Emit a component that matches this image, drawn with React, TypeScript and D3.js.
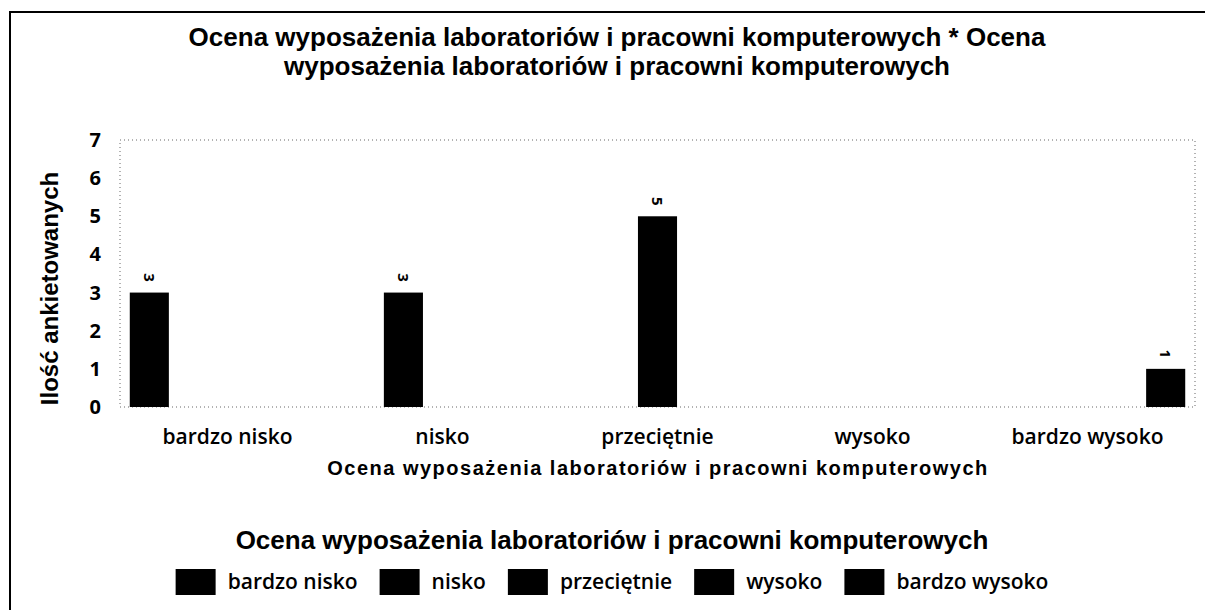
import { useEffect, useRef } from 'react';
import * as d3 from 'd3';

// kategorie oceny (oś X) i serie w legendzie
const categories = ['bardzo nisko', 'nisko', 'przeciętnie', 'wysoko', 'bardzo wysoko'];
const seriesNames = ['bardzo nisko', 'nisko', 'przeciętnie', 'wysoko', 'bardzo wysoko'];
// liczba ankietowanych - każda kategoria ma wartość tylko we własnej serii
const counts = [3, 3, 5, 0, 1];
const yTicks = [0, 1, 2, 3, 4, 5, 6, 7];

const titleLines = [
  'Ocena wyposażenia laboratoriów i pracowni komputerowych * Ocena',
  'wyposażenia laboratoriów i pracowni komputerowych',
];
const xTitle = 'Ocena wyposażenia laboratoriów i pracowni komputerowych';
const yTitle = 'Ilość ankietowanych';
const legendTitle = 'Ocena wyposażenia laboratoriów i pracowni komputerowych';

const W = 1205;
const H = 610;

export default function App() {
  const svgRef = useRef<SVGSVGElement>(null);

  useEffect(() => {
    if (!svgRef.current) return;
    const svg = d3.select(svgRef.current);
    svg.selectAll('*').remove();

    const boldFont = '"Liberation Sans", Arial, sans-serif';
    const plainFont = '"Open Sans", sans-serif';

    // ramka
    svg.append('rect')
      .attr('x', 10).attr('y', 12)
      .attr('width', W + 20).attr('height', H + 20)
      .attr('fill', 'white')
      .attr('stroke', '#000')
      .attr('stroke-width', 2);

    // tytuł
    const title = svg.append('text')
      .attr('text-anchor', 'middle')
      .attr('font-family', boldFont)
      .attr('font-weight', 'bold')
      .attr('font-size', 26)
      .attr('fill', '#000');
    titleLines.forEach((line, i) => {
      title.append('tspan').attr('x', 617).attr('y', 46 + i * 29).text(line);
    });

    const left = 120;
    const right = 1195;
    const top = 140;
    const bottom = 407;

    const x0 = d3.scaleBand<string>().domain(categories).range([left, right]).padding(0);
    const x1 = d3.scaleBand<string>().domain(seriesNames)
      .range([0, x0.bandwidth()])
      .paddingInner(0)
      .paddingOuter(0.25);
    const y = d3.scaleLinear().domain([0, 7]).range([bottom, top]);

    // obszar wykresu - kropkowane krawędzie
    svg.append('rect')
      .attr('x', left).attr('y', top)
      .attr('width', right - left).attr('height', bottom - top)
      .attr('fill', 'none')
      .attr('stroke', '#666')
      .attr('stroke-width', 1)
      .attr('stroke-dasharray', '1,3');

    // oś Y
    svg.append('g')
      .selectAll('text')
      .data(yTicks)
      .enter()
      .append('text')
      .attr('x', 101)
      .attr('y', d => y(d))
      .attr('dy', '0.35em')
      .attr('text-anchor', 'end')
      .attr('font-family', plainFont)
      .attr('font-weight', 700)
      .attr('font-size', 20)
      .text(d => d);

    svg.append('text')
      .attr('transform', `translate(50, ${(top + bottom) / 2 + 15}) rotate(-90)`)
      .attr('text-anchor', 'middle')
      .attr('dy', '0.35em')
      .attr('font-family', boldFont)
      .attr('font-weight', 'bold')
      .attr('font-size', 24)
      .text(yTitle);

    // słupki
    const groups = svg.append('g')
      .selectAll('g')
      .data(categories)
      .enter()
      .append('g')
      .attr('transform', d => `translate(${x0(d)}, 0)`);

    const bars = groups.selectAll('g')
      .data((c, ci) => seriesNames.map((s, si) => ({ s, v: si === ci ? counts[ci] : 0 })).filter(d => d.v > 0))
      .enter()
      .append('g');

    bars.append('rect')
      .attr('x', d => x1(d.s)!)
      .attr('y', d => y(d.v))
      .attr('width', x1.bandwidth())
      .attr('height', d => y(0) - y(d.v))
      .attr('fill', '#000');

    bars.append('text')
      .attr('transform', d => `translate(${x1(d.s)! + x1.bandwidth() / 2}, ${y(d.v) - 15}) rotate(90)`)
      .attr('text-anchor', 'middle')
      .attr('dy', '0.35em')
      .attr('font-family', plainFont)
      .attr('font-weight', 700)
      .attr('font-size', 15)
      .text(d => d.v);

    // etykiety kategorii
    svg.append('g')
      .selectAll('text')
      .data(categories)
      .enter()
      .append('text')
      .attr('x', d => x0(d)! + x0.bandwidth() / 2)
      .attr('y', 437)
      .attr('dy', '0.35em')
      .attr('text-anchor', 'middle')
      .attr('font-family', plainFont)
      .attr('font-weight', 600)
      .attr('font-size', 21)
      .text(d => d);

    svg.append('text')
      .attr('x', 658)
      .attr('y', 468)
      .attr('dy', '0.35em')
      .attr('text-anchor', 'middle')
      .attr('font-family', boldFont)
      .attr('font-weight', 'bold')
      .attr('font-size', 20)
      .attr('letter-spacing', 1.5)
      .text(xTitle);

    // legenda
    svg.append('text')
      .attr('x', 612)
      .attr('y', 540)
      .attr('dy', '0.35em')
      .attr('text-anchor', 'middle')
      .attr('font-family', boldFont)
      .attr('font-weight', 'bold')
      .attr('font-size', 26)
      .text(legendTitle);

    const legend = svg.append('g');
    const sw = 40;
    const sh = 26;
    const gap = 12;
    const itemGap = 22;
    let cx = 0;
    seriesNames.forEach(name => {
      const item = legend.append('g').attr('transform', `translate(${cx}, 0)`);
      item.append('rect')
        .attr('x', 0).attr('y', -sh / 2)
        .attr('width', sw).attr('height', sh)
        .attr('fill', '#000');
      const t = item.append('text')
        .attr('x', sw + gap)
        .attr('dy', '0.35em')
        .attr('font-family', plainFont)
        .attr('font-weight', 600)
        .attr('font-size', 21)
        .text(name);
      const tw = (t.node() as SVGTextElement).getComputedTextLength();
      cx += sw + gap + tw + itemGap;
    });
    const legendWidth = cx - itemGap;
    legend.attr('transform', `translate(${612 - legendWidth / 2}, 582)`);
  }, []);

  return (
    <svg ref={svgRef} width={W} height={H} style={{ position: 'absolute', left: 0, top: 0 }} />
  );
}
